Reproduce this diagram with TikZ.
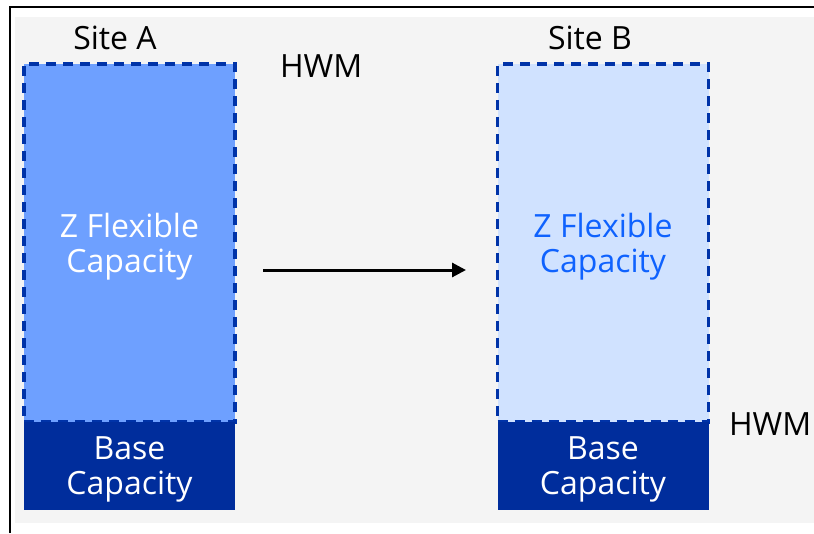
\documentclass[tikz,border=0pt]{standalone}
\usepackage{fontspec}
\setmainfont{Open Sans}
\usetikzlibrary{positioning,arrows.meta}

\definecolor{pageGray}{HTML}{F4F4F4}
\definecolor{edgeBlue}{HTML}{0033A8}
\definecolor{baseBlue}{HTML}{002D9C}
\definecolor{flexBlueA}{HTML}{6EA0FF}
\definecolor{flexBlueB}{HTML}{D0E2FF}
\definecolor{textBlue}{HTML}{0F62FE}

\begin{document}
\begin{tikzpicture}[x=1pt,y=-1pt,
		% Define styles for boxes and labels
		every node/.style={inner sep=0pt, outer sep=0pt, align=center, font=\fontsize{32}{35}\selectfont},
		flexbox/.style={draw=edgeBlue, line width=3.5pt, dash pattern=on 10pt off 7pt, minimum width=211pt, minimum height=358pt},
		basebox/.style={fill=baseBlue, minimum width=211pt, minimum height=88pt},
		boxtext/.style={yshift=-3.5pt},
		sitelabel/.style={text=black},
		hwmlabel/.style={text=black, anchor=west}
	]
	\useasboundingbox (0,0) rectangle (814,533);

	% Frame and background
	\fill[pageGray] (15,17) rectangle (814,523);
	\draw[line width=2pt] (9.5,533) -- (9.5,7) -- (814,7);

	% Site A
	\node[flexbox, fill=flexBlueA] (flexA) at (129.5,243) {};
	\node[basebox, below=0pt of flexA] (baseA) {};
	\node[boxtext, text=white] (flexAtext) at (flexA.center) {Z Flexible\\Capacity};
	\node[boxtext, text=white] (baseAtext) at (baseA.center) {Base\\Capacity};
	\node[sitelabel] (siteA) at (115,38) {Site A};
	\node[hwmlabel] (hwmA) at (280,66) {HWM};

	% Site B
	\node[flexbox, fill=flexBlueB] (flexB) at (603,243) {};
	\node[basebox, below=0pt of flexB] (baseB) {};
	\node[boxtext, text=textBlue] (flexBtext) at (flexB.center) {Z Flexible\\Capacity};
	\node[boxtext, text=white] (baseBtext) at (baseB.center) {Base\\Capacity};
	\node[sitelabel] (siteB) at (590,38) {Site B};
	\node[hwmlabel] (hwmB) at (729,424) {HWM};

	% Arrow between the sites
	\coordinate (arrowStart) at (263,270);
	\coordinate (arrowEnd) at (466,270);
	\draw[line width=3pt, -{Triangle[length=14pt,width=14pt]}] (arrowStart) -- (arrowEnd);
\end{tikzpicture}
\end{document}
